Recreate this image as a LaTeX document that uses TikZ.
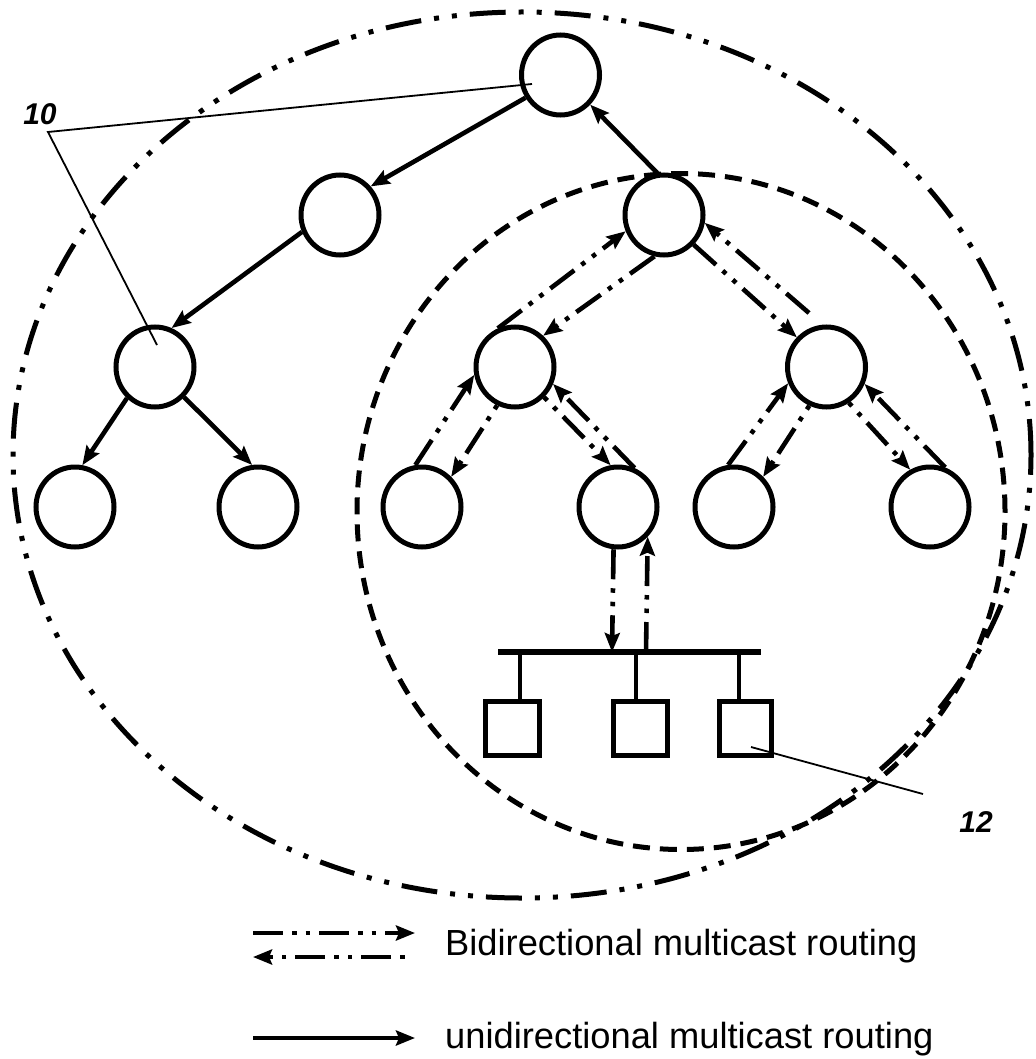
\documentclass[tikz,border=0pt]{standalone}
\usepackage{fontspec}
\setmainfont{Liberation Sans}
\usetikzlibrary{arrows.meta,shapes.geometric}
\begin{document}
\begin{tikzpicture}[x=1pt,y=-1pt,
  tnode/.style={ellipse, draw, line width=5pt, minimum width=78pt, minimum height=80pt, inner sep=0pt},
  host/.style={rectangle, draw, line width=5pt, minimum width=54pt, minimum height=54pt, inner sep=0pt},
  uni/.style={line width=4.6pt, -{Stealth[length=19pt,width=15pt,inset=3pt]}},
  bidi/.style={line width=4.6pt, dash pattern=on 30pt off 9pt on 4.5pt off 9pt on 4.5pt off 9pt, -{Stealth[length=19pt,width=15pt,inset=3pt]}},
  bidib/.style={bidi, dash phase=39pt},
  outerring/.style={line width=5pt, dash pattern=on 36pt off 13pt on 5pt off 13pt on 5pt off 13pt},
  innerring/.style={line width=5pt, dash pattern=on 17pt off 10pt},
  leader/.style={line width=1.8pt},
  wire/.style={line width=4.6pt},
  lbl/.style={font=\fontsize{30pt}{32pt}\selectfont\bfseries\itshape, inner sep=0pt},
  legtext/.style={font=\fontsize{36.3pt}{40pt}\selectfont, inner sep=0pt, anchor=base west}
]
\useasboundingbox (0,0) rectangle (1035,1059);

% domains
\draw[outerring] (522,455) ellipse [x radius=509pt, y radius=443pt];
\draw[innerring] (681,511.5) ellipse [x radius=324pt, y radius=338pt];

% routers
\node[tnode] (root) at (560.5,75) {};
\node[tnode] (A) at (340,215) {};
\node[tnode] (B) at (664,215) {};
\node[tnode] (C) at (155,367) {};
\node[tnode] (D) at (515,367) {};
\node[tnode] (E) at (826.5,367) {};
\node[tnode] (LL) at (75,507) {};
\node[tnode] (LR) at (258,507) {};
\node[tnode] (DL) at (422,507) {};
\node[tnode] (DR) at (618,507) {};
\node[tnode] (EL) at (734,507) {};
\node[tnode] (ER) at (930,507) {};

% hosts
\node[host] (H1) at (512.5,728.5) {};
\node[host] (H2) at (640.5,728.5) {};
\node[host, minimum width=52pt] (H3) at (745.5,728.5) {};

% bus
\coordinate (busL) at (498,652);
\coordinate (busR) at (761,652);
\draw[line width=5.5pt] (busL) -- (busR);
\coordinate (tap1) at (520,652);
\coordinate (tap2) at (636,652);
\coordinate (tap3) at (739,652);
\draw[wire] (tap1) -- (tap1 |- H1.north);
\draw[wire] (tap2) -- (tap2 |- H2.north);
\draw[wire] (tap3) -- (tap3 |- H3.north);

% unidirectional
\draw[uni] (B.99) -- (root.-45.5);
\draw[uni] (root.213) -- (A.43);
\draw[uni] (A.204) -- (C.67);
\draw[uni] (C.228) -- (LL.80);
\draw[uni] (C.314) -- (LR.98);

% bidirectional
\draw[bidi] (D.114) -- (B.203);
\draw[bidi] (B.257) -- (D.48);
\draw[bidi] (B.-45) -- (E.135);
\draw[bidi] ([shift={(-17.5,-54)}]E.center) -- (B.-11);
\draw[bidi] (DL.99) -- (D.191);
\draw[bidib] (D.245) -- (DL.46);
\draw[bidib] (D.-46) -- (DR.100);
\draw[bidi] (DR.67) -- (D.-24);
\draw[bidi] (EL.98) -- (E.203);
\draw[bidib] (E.246) -- (EL.46);
\draw[bidib] (E.-58) -- (ER.118);
\draw[bidi] (ER.69) -- (E.-24);
\coordinate (busIn) at (612,652);
\coordinate (busOut) at (646,652);
\draw[bidi] (DR.264) -- (busIn);
\draw[bidi] (busOut) -- (DR.-45);

% reference labels
\node[lbl] (lab10) at (40,114) {10};
\coordinate (v10) at (48,132);
\draw[leader] ([shift={(-28.5,9)}]root.center) -- (v10) -- ([shift={(2,-22)}]C.center);
\node[lbl] (lab12) at (976,822) {12};
\coordinate (p12) at (923,794);
\draw[leader] ([shift={(5.5,18.5)}]H3.center) -- (p12);

% legend
\coordinate (b1s) at (253,933);
\coordinate (b1e) at (415,933);
\coordinate (b2s) at (405,957);
\coordinate (b2e) at (253,957);
\coordinate (u1s) at (253,1038);
\coordinate (u1e) at (415,1038);
\draw[bidi] (b1s) -- (b1e);
\draw[bidi, dash phase=52pt] (b2s) -- (b2e);
\draw[uni] (u1s) -- (u1e);
\node[legtext] (t1) at (445,955) {Bidirectional multicast routing};
\node[legtext] (t2) at (445,1048) {unidirectional multicast routing};
\end{tikzpicture}
\end{document}
